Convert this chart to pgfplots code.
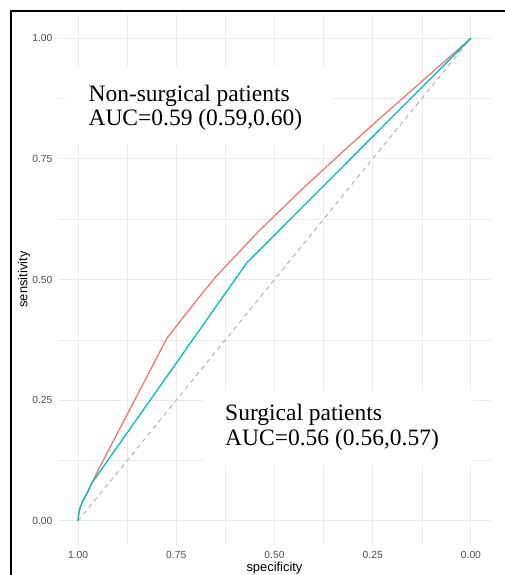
\documentclass[border=0pt]{standalone}
\usepackage{fontspec}
\setmainfont{Liberation Sans}
\newfontfamily\timesfont{Liberation Serif}
\usepackage{pgfplots}
\pgfplotsset{compat=1.18}
\definecolor{nonsurg}{HTML}{F8766D}
\definecolor{surg}{HTML}{00BFC4}
\definecolor{gridgray}{HTML}{EBEBEB}
\definecolor{tickgray}{HTML}{4D4D4D}
\definecolor{diaggray}{HTML}{B8B8B8}
\begin{document}
\begin{tikzpicture}
\path[use as bounding box] (0,0) rectangle (505bp,575bp);
\begin{axis}[
  at={(58.4bp,30bp)}, anchor=south west,
  scale only axis, width=432.2bp, height=531bp,
  x dir=reverse,
  xmin=-0.05, xmax=1.05, ymin=-0.05, ymax=1.05,
  xtick={0,0.25,0.5,0.75,1}, ytick={0,0.25,0.5,0.75,1},
  minor tick num=1,
  grid=both,
  major grid style={gridgray, line width=1bp},
  minor grid style={gridgray, line width=0.6bp},
  axis line style={draw=none},
  major tick length=0pt, minor tick length=0pt,
  /pgf/number format/assume math mode=true,
  tick label style={font=\fontsize{10.3bp}{12bp}\selectfont, text=tickgray,
    /pgf/number format/fixed, /pgf/number format/fixed zerofill,
    /pgf/number format/precision=2},
  xticklabel style={yshift=-3bp},
  yticklabel style={xshift=-2.5bp},
  xlabel={specificity}, ylabel={sensitivity},
  label style={font=\fontsize{12.9bp}{15bp}\selectfont},
  xlabel style={at={(axis description cs:0.5,-0.0497)}, anchor=base},
  ylabel style={at={(axis description cs:-0.0717,0.5)}, anchor=base},
]
% reference diagonal
\addplot[diaggray, line width=1.1bp, dash pattern=on 4.5bp off 4bp] coordinates {(1,0) (0,1)};
% non-surgical patients
\addplot[nonsurg, line width=1.3bp, line join=round] coordinates {
(1,0) (0.999,0.010) (0.997,0.020) (0.994,0.029) (0.990,0.037) (0.984,0.047)
(0.976,0.059) (0.965,0.078) (0.948,0.106)
(0.774,0.378) (0.700,0.455) (0.649,0.506) (0.540,0.600) (0.435,0.683)
(0.330,0.762) (0.237,0.830) (0,1)};
% surgical patients
\addplot[surg, line width=1.3bp, line join=round] coordinates {
(1,0) (0.999,0.010) (0.997,0.020) (0.994,0.029) (0.990,0.037) (0.984,0.047)
(0.976,0.059) (0.965,0.078) (0.571,0.534) (0,1)};
% labels
\fill[white] (axis cs:1.0305,0.94) rectangle (axis cs:0.35,0.7826);
\fill[white] (axis cs:0.682,0.2712) rectangle (axis cs:-0.005,0.1139);
\begin{scope}[every node/.style={anchor=base west, inner sep=0pt,
    font=\timesfont\fontsize{23.5bp}{28bp}\selectfont}]
\node at (axis cs:0.9738,0.869) {Non-surgical patients};
\node at (axis cs:0.9738,0.8184) {AUC=0.59 (0.59,0.60)};
\node at (axis cs:0.626,0.2077) {Surgical patients};
\node at (axis cs:0.626,0.1571) {AUC=0.56 (0.56,0.57)};
\end{scope}
\end{axis}
\draw[line width=2bp] (10.5bp,0) -- (10.5bp,564bp) -- (505bp,564bp);
\end{tikzpicture}
\end{document}
